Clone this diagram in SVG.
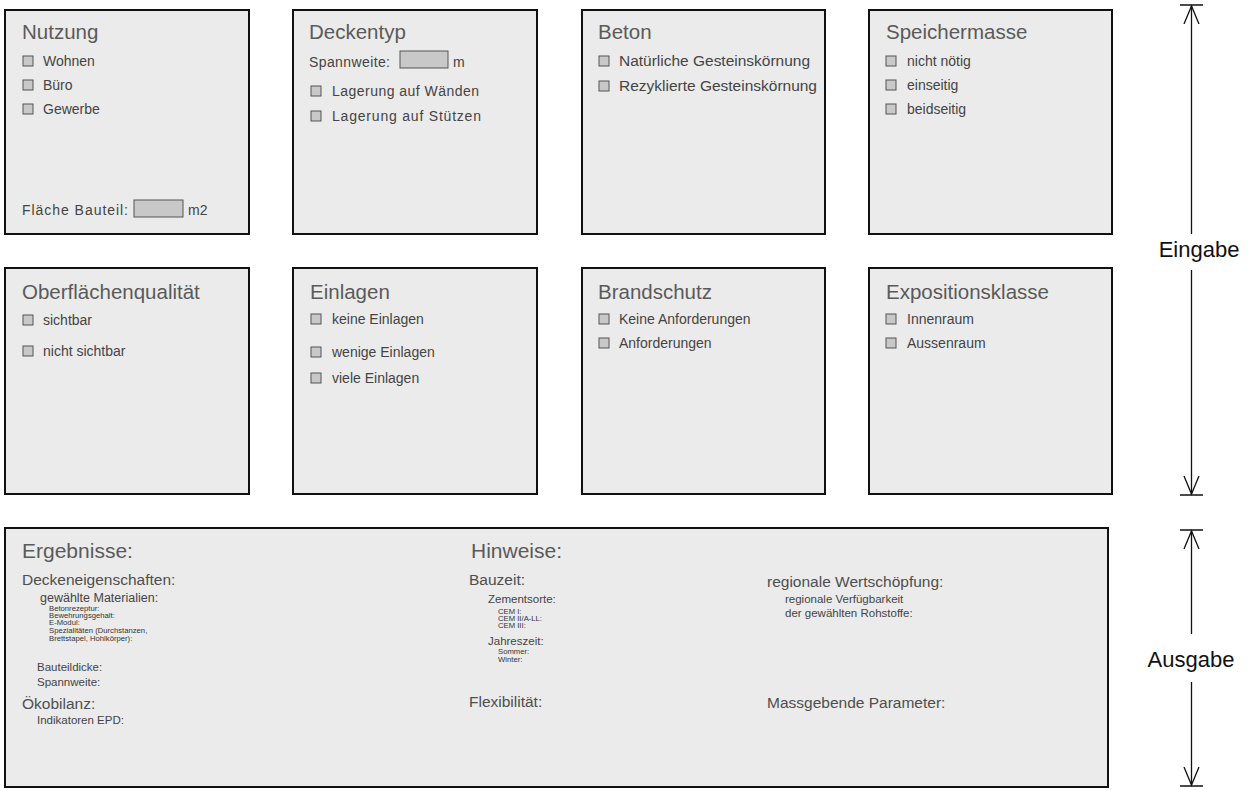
<svg xmlns="http://www.w3.org/2000/svg" width="1248" height="790" viewBox="0 0 1248 790">
  <style>
    .panel { fill: #ebebeb; stroke: #111; stroke-width: 2; }
    .chk { fill: #c8c8c8; stroke: #555; stroke-width: 1; }
    .fld { fill: #c8c8c8; stroke: #555; stroke-width: 1; }
    text { font-family: "Liberation Sans", Arial, sans-serif; fill: #444; }
    .title { font-size: 20.5px; fill: #5a5a5a; }
    .item { font-size: 14px; }
    .h1 { font-size: 21px; fill: #5a5a5a; }
    .h2 { font-size: 15.5px; fill: #4e4e4e; }
    .h3 { font-size: 12.5px; }
    .h3s { font-size: 11.5px; }
    .tiny { font-size: 7.7px; fill: #333; }
    .dim { stroke: #111; stroke-width: 1.3; fill: none; }
    .dimlabel { font-size: 22px; fill: #111; text-anchor: middle; }
  </style>
  <defs>
    <marker id="tip" viewBox="0 0 20 20" refX="18" refY="10" markerWidth="20" markerHeight="20" markerUnits="userSpaceOnUse" orient="auto">
      <path d="M0,2.5 L18,10 L0,17.5" fill="none" stroke="#111" stroke-width="1.3"/>
    </marker>
  </defs>

  <!-- Input panels, first row -->
  <g id="nutzung">
    <rect class="panel" x="5" y="10" width="244" height="224"/>
    <text class="title" x="22" y="39">Nutzung</text>
    <rect class="chk" x="23" y="56" width="10" height="10"/>
    <text class="item" x="43" y="66">Wohnen</text>
    <rect class="chk" x="23" y="80" width="10" height="10"/>
    <text class="item" x="43" y="90">Büro</text>
    <rect class="chk" x="23" y="104" width="10" height="10"/>
    <text class="item" x="43" y="114">Gewerbe</text>
    <text class="item" x="22" y="215" textLength="106" lengthAdjust="spacing">Fläche Bauteil:</text>
    <rect class="fld" x="134" y="200" width="49" height="17"/>
    <text class="item" x="188" y="215">m2</text>
  </g>

  <g id="deckentyp">
    <rect class="panel" x="293" y="10" width="244" height="224"/>
    <text class="title" x="309" y="39">Deckentyp</text>
    <text class="item" x="309" y="67" textLength="81" lengthAdjust="spacing">Spannweite:</text>
    <rect class="fld" x="400" y="51" width="48" height="17"/>
    <text class="item" x="453" y="67">m</text>
    <rect class="chk" x="311" y="86" width="10" height="10"/>
    <text class="item" x="332" y="96" textLength="147" lengthAdjust="spacing">Lagerung auf Wänden</text>
    <rect class="chk" x="311" y="111" width="10" height="10"/>
    <text class="item" x="332" y="121" textLength="149" lengthAdjust="spacing">Lagerung auf Stützen</text>
  </g>

  <g id="beton">
    <rect class="panel" x="582" y="10" width="243" height="224"/>
    <text class="title" x="598" y="39">Beton</text>
    <rect class="chk" x="599" y="56" width="10" height="10"/>
    <text class="item" x="619" y="66" textLength="191" lengthAdjust="spacingAndGlyphs">Natürliche Gesteinskörnung</text>
    <rect class="chk" x="599" y="81" width="10" height="10"/>
    <text class="item" x="619" y="91" textLength="198" lengthAdjust="spacingAndGlyphs">Rezyklierte Gesteinskörnung</text>
  </g>

  <g id="speichermasse">
    <rect class="panel" x="869" y="10" width="243" height="224"/>
    <text class="title" x="886" y="39">Speichermasse</text>
    <rect class="chk" x="886" y="56" width="10" height="10"/>
    <text class="item" x="907" y="66">nicht nötig</text>
    <rect class="chk" x="886" y="80" width="10" height="10"/>
    <text class="item" x="907" y="90">einseitig</text>
    <rect class="chk" x="886" y="104" width="10" height="10"/>
    <text class="item" x="907" y="114">beidseitig</text>
  </g>

  <!-- Input panels, second row -->
  <g id="oberflaeche">
    <rect class="panel" x="5" y="268" width="244" height="226"/>
    <text class="title" x="22" y="299">Oberflächenqualität</text>
    <rect class="chk" x="23" y="315" width="10" height="10"/>
    <text class="item" x="43" y="325">sichtbar</text>
    <rect class="chk" x="23" y="346" width="10" height="10"/>
    <text class="item" x="43" y="356">nicht sichtbar</text>
  </g>

  <g id="einlagen">
    <rect class="panel" x="293" y="268" width="244" height="226"/>
    <text class="title" x="310" y="299">Einlagen</text>
    <rect class="chk" x="311" y="314" width="10" height="10"/>
    <text class="item" x="332" y="324">keine Einlagen</text>
    <rect class="chk" x="311" y="347" width="10" height="10"/>
    <text class="item" x="332" y="357">wenige Einlagen</text>
    <rect class="chk" x="311" y="373" width="10" height="10"/>
    <text class="item" x="332" y="383">viele Einlagen</text>
  </g>

  <g id="brandschutz">
    <rect class="panel" x="582" y="268" width="243" height="226"/>
    <text class="title" x="598" y="299">Brandschutz</text>
    <rect class="chk" x="599" y="314" width="10" height="10"/>
    <text class="item" x="619" y="324">Keine Anforderungen</text>
    <rect class="chk" x="599" y="338" width="10" height="10"/>
    <text class="item" x="619" y="348">Anforderungen</text>
  </g>

  <g id="expositionsklasse">
    <rect class="panel" x="869" y="268" width="243" height="226"/>
    <text class="title" x="886" y="299">Expositionsklasse</text>
    <rect class="chk" x="886" y="314" width="10" height="10"/>
    <text class="item" x="907" y="324">Innenraum</text>
    <rect class="chk" x="886" y="338" width="10" height="10"/>
    <text class="item" x="907" y="348">Aussenraum</text>
  </g>

  <!-- Output panel -->
  <g id="ausgabe-panel">
    <rect class="panel" x="5" y="528" width="1103" height="259"/>

    <text class="h1" x="22" y="558">Ergebnisse:</text>
    <text class="h2" x="22" y="585">Deckeneigenschaften:</text>
    <text class="h3" x="40" y="602">gewählte Materialien:</text>
    <text class="tiny" x="49" y="611">Betonrezeptur:</text>
    <text class="tiny" x="49" y="618">Bewehrungsgehalt:</text>
    <text class="tiny" x="49" y="625">E-Modul:</text>
    <text class="tiny" x="49" y="633">Spezialitäten (Durchstanzen,</text>
    <text class="tiny" x="49" y="641">Brettstapel, Hohlkörper):</text>
    <text class="h3s" x="37" y="671">Bauteildicke:</text>
    <text class="h3s" x="37" y="686">Spannweite:</text>
    <text class="h2" x="22" y="709">Ökobilanz:</text>
    <text class="h3s" x="37" y="724">Indikatoren EPD:</text>

    <text class="h1" x="471" y="558">Hinweise:</text>
    <text class="h2" x="469" y="585">Bauzeit:</text>
    <text class="h3s" x="488" y="603">Zementsorte:</text>
    <text class="tiny" x="498" y="614">CEM I:</text>
    <text class="tiny" x="498" y="621">CEM II/A-LL:</text>
    <text class="tiny" x="498" y="628">CEM III:</text>
    <text class="h3s" x="488" y="645">Jahreszeit:</text>
    <text class="tiny" x="498" y="654">Sommer:</text>
    <text class="tiny" x="498" y="662">Winter:</text>
    <text class="h2" x="469" y="707">Flexibilität:</text>

    <text class="h2" x="767" y="587">regionale Wertschöpfung:</text>
    <text class="h3s" x="785" y="603">regionale Verfügbarkeit</text>
    <text class="h3s" x="785" y="617">der gewählten Rohstoffe:</text>
    <text class="h2" x="767" y="708">Massgebende Parameter:</text>
  </g>

  <!-- Dimension lines -->
  <g id="connectors">
    <path class="dim" d="M1180,5 H1203 M1180,495 H1203"/>
    <path class="dim" d="M1191.5,234 V6" marker-end="url(#tip)"/>
    <path class="dim" d="M1191.5,270 V494" marker-end="url(#tip)"/>
    <path class="dim" d="M1180,530 H1203 M1180,786 H1203"/>
    <path class="dim" d="M1191.5,634 V531" marker-end="url(#tip)"/>
    <path class="dim" d="M1191.5,682 V785" marker-end="url(#tip)"/>
  </g>
  <g id="eingabe-label">
    <text class="dimlabel" x="1199" y="257">Eingabe</text>
  </g>
  <g id="ausgabe-label">
    <text class="dimlabel" x="1191" y="667">Ausgabe</text>
  </g>
</svg>
